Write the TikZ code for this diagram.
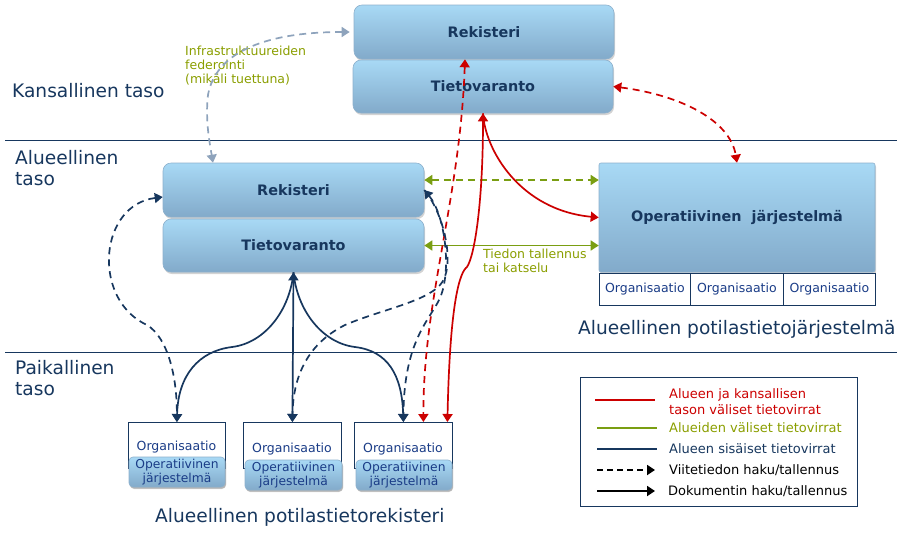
\documentclass[tikz,border=0pt]{standalone}
\usepackage{fontspec}
\setmainfont{DejaVu Sans}
\usetikzlibrary{arrows.meta,shadows,calc}
\definecolor{navy}{HTML}{17375E}
\definecolor{orgblue}{HTML}{1A3C87}
\definecolor{myred}{HTML}{CC0000}
\definecolor{mygreen}{HTML}{7A9E12}
\definecolor{txtgreen}{HTML}{8A9E00}
\definecolor{fedgray}{HTML}{8EA3BC}
\definecolor{boxtop}{HTML}{A8D9F5}
\definecolor{boxbot}{HTML}{82AACA}
\definecolor{boxline}{HTML}{8DB0CC}
\newcommand\myfs[1]{\fontsize{#1pt}{#1pt}\selectfont}
\tikzset{
  bluebox/.style={draw=boxline, line width=0.6pt, top color=boxtop, bottom color=boxbot,
    rounded corners=8pt, inner sep=0pt, text=navy,
    font=\bfseries\myfs{14.4},
    drop shadow={shadow xshift=1pt, shadow yshift=-2pt, opacity=0.35}},
  smallblue/.style={bluebox, rounded corners=4pt, font=\fontsize{12.3pt}{13.2pt}\selectfont, align=center,
    text=orgblue, minimum height=30pt, drop shadow={shadow xshift=1pt, shadow yshift=-1.5pt, opacity=0.35}},
  orgcell/.style={draw=navy, line width=0.8pt, fill=white, inner sep=0pt, text=orgblue, font=\myfs{12.5}},
  bigtxt/.style={anchor=base west, inner sep=0pt, text=navy, font=\myfs{18.6}},
  smalltxt/.style={anchor=base west, inner sep=0pt, text=txtgreen, font=\myfs{12.5}},
  legtxt/.style={anchor=base west, inner sep=0pt, font=\myfs{13}},
  conn/.style={line width=1.7pt},
  dsh/.style={dash pattern=on 7pt off 5pt},
  >={Triangle[width=10pt,length=8pt]}
}
\begin{document}
\begin{tikzpicture}[x=1pt,y=-1pt]
\useasboundingbox (0,0) rectangle (908,539);

% separators
\draw[navy, line width=1pt] (5,140) -- (897,140);
\draw[navy, line width=1pt] (5,352) -- (897,352);

% level labels
\node[bigtxt] (lkans) at (12,97) {Kansallinen taso};
\node[bigtxt] (lalue1) at (15,164) {Alueellinen};
\node[bigtxt] (lalue2) at (15,185) {taso};
\node[bigtxt] (lpaik1) at (15,374) {Paikallinen};
\node[bigtxt] (lpaik2) at (15,395) {taso};

% national boxes
\node[bluebox, minimum width=260pt, minimum height=54pt] (natrek) at (484,32) {Rekisteri};
\node[bluebox, minimum width=260pt, minimum height=53pt] (natvar) at (483,86.5) {Tietovaranto};

% regional boxes
\node[bluebox, minimum width=261pt, minimum height=54pt] (regrek) at (293.5,190) {Rekisteri};
\node[bluebox, minimum width=261pt, minimum height=53pt] (regvar) at (293.5,245.5) {Tietovaranto};

% operational system
\node[bluebox, rounded corners=2pt, minimum width=276pt, minimum height=109pt] (opsys) at (737,217.5) {Operatiivinen\ \ järjestelmä};
\node[orgcell, minimum width=91pt, minimum height=32pt, anchor=north west] (org1) at (599,273) {Organisaatio};
\node[orgcell, minimum width=93pt, minimum height=32pt, anchor=north west] (org2) at (690,273) {Organisaatio};
\node[orgcell, minimum width=92pt, minimum height=32pt, anchor=north west] (org3) at (783,273) {Organisaatio};
\node[bigtxt] (lapj) at (578,334) {Alueellinen potilastietojärjestelmä};

% local organisations
\node[orgcell, minimum width=97pt, minimum height=46pt, anchor=north west] (loc1) at (128,422) {};
\node[orgcell, minimum width=98pt, minimum height=46pt, anchor=north west] (loc2) at (243,422) {};
\node[orgcell, minimum width=98pt, minimum height=46pt, anchor=north west] (loc3) at (354,422) {};
\node[inner sep=0pt, text=orgblue, font=\myfs{12.5}] (loc1t) at (176.5,447) {Organisaatio};
\node[inner sep=0pt, text=orgblue, font=\myfs{12.5}] (loc2t) at (292,449) {Organisaatio};
\node[inner sep=0pt, text=orgblue, font=\myfs{12.5}] (loc3t) at (403,449) {Organisaatio};
\node[smallblue, minimum width=96pt, minimum height=30pt] (lop1) at (177,472) {Operatiivinen\\järjestelmä};
\node[smallblue, minimum width=97pt, minimum height=30pt] (lop2) at (293.5,475) {Operatiivinen\\järjestelmä};
\node[smallblue, minimum width=96pt, minimum height=30pt] (lop3) at (404,475) {Operatiivinen\\järjestelmä};
\node[bigtxt] (lapr) at (155,522) {Alueellinen potilastietorekisteri};

% federation label
\node[smalltxt] (fed1) at (185,55) {Infrastruktuureiden};
\node[smalltxt] (fed2) at (185,69) {federointi};
\node[smalltxt] (fed3) at (185,83) {(mikäli tuettuna)};
\node[smalltxt] (tal1) at (483,258) {Tiedon tallennus};
\node[smalltxt] (tal2) at (483,272) {tai katselu};

% ---- connectors ----
% federation (gray dashed)
\draw[conn, dsh, fedgray, <->] ([xshift=-4pt]natrek.west)
  .. controls (260,32) and (215,55) .. (208,95)
  .. controls (205,120) and (210,145) .. ([xshift=-80.5pt]regrek.north);

% national Tietovaranto <-> operational (red dashed)
\draw[conn, dsh, myred, <->] (natvar.east)
  .. controls (680,95) and (730,120) .. (opsys.north);

% regional <-> operational (green)
\draw[conn, dsh, mygreen, <->] ([yshift=10pt]regrek.east) -- ([yshift=10pt]regrek.east -| opsys.west);
\draw[conn, mygreen, <->] (regvar.east) -- (regvar.east -| opsys.west);

% national Tietovaranto -> operational (red solid)
\draw[conn, myred, ->] (natvar.south)
  .. controls (485,150) and (520,210) .. (opsys.west);

% national Tietovaranto <-> local 3 (red solid)
\draw[conn, myred, <->] (natvar.south)
  .. controls (483,200) and (475,255) .. (467,267)
  .. controls (460,272) and (450,300) .. ([xshift=44pt]loc3.north);

% national Rekisteri <-> local 3 (red dashed)
\draw[conn, dsh, myred, <->] ([xshift=-19pt]natrek.south)
  .. controls (460,200) and (423,300) .. ([xshift=20pt]loc3.north);

% regional Rekisteri <-> local 1 (navy dashed)
\draw[conn, dsh, navy, <->] ([yshift=-7pt]regrek.west)
  .. controls (100,205) and (92,295) .. (143,323)
  .. controls (165,332) and (177,370) .. (loc1.north);

% regional Rekisteri <-> local 3 (navy dashed)
\draw[conn, dsh, navy, <->] (regrek.east)
  .. controls (445,215) and (452,270) .. (440,298)
  .. controls (430,320) and (404,340) .. (loc3.north);

% regional Rekisteri <-> local 2 (navy dashed)
\draw[conn, dsh, navy, ->] (regrek.east)
  .. controls (445,215) and (456,268) .. (440,285)
  .. controls (425,302) and (380,310) .. (345,325)
  .. controls (305,345) and (293,380) .. (loc2.north);

% regional Tietovaranto <-> locals (navy solid)
\draw[conn, navy, ->] (regvar.south)
  .. controls (290,310) and (265,343) .. (232,347)
  .. controls (199,351) and (178,375) .. (loc1.north);
\draw[conn, navy, ->] (regvar.south)
  .. controls (297,310) and (322,343) .. (355,347)
  .. controls (388,351) and (402,375) .. (loc3.north);
\draw[conn, navy, <->] (regvar.south) -- (loc2.north);

% ---- legend ----
\node[draw=navy, line width=1.2pt, minimum width=277pt, minimum height=129pt, anchor=north west, inner sep=0pt] (leg) at (580,377) {};
\draw[line width=2pt, myred] (595,400) -- (655,400);
\draw[line width=2pt, mygreen] (597,428) -- (657,428);
\draw[line width=2pt, navy] (597,449) -- (657,449);
\draw[line width=1.8pt, black, dash pattern=on 6pt off 4pt, -{Triangle[width=10pt,length=8pt]}] (597,470) -- (655,470);
\draw[line width=1.8pt, black, -{Triangle[width=10pt,length=8pt]}] (597,491) -- (655,491);
\node[legtxt, text=myred] (lg1a) at (669,398) {Alueen ja kansallisen};
\node[legtxt, text=myred] (lg1b) at (669,414) {tason väliset tietovirrat};
\node[legtxt, text=txtgreen] (lg2) at (669,432) {Alueiden väliset tietovirrat};
\node[legtxt, text=navy] (lg3) at (669,453) {Alueen sisäiset tietovirrat};
\node[legtxt, text=black] (lg4) at (669,474) {Viitetiedon haku/tallennus};
\node[legtxt, text=black] (lg5) at (668,495) {Dokumentin haku/tallennus};
\end{tikzpicture}
\end{document}
